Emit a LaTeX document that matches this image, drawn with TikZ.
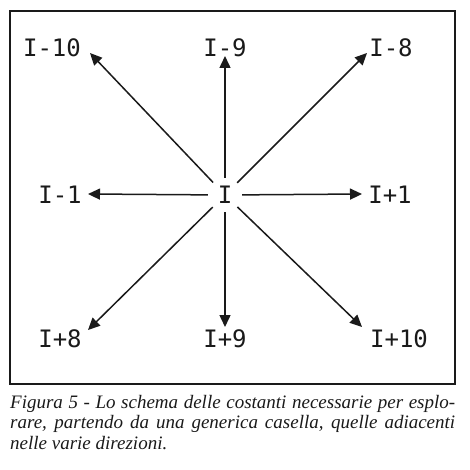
\documentclass[tikz,border=0pt]{standalone}
\usepackage{fontspec}
\usepackage{xcolor}
\usetikzlibrary{arrows.meta}
\newfontfamily\labfont{DejaVu Sans Mono}
\newfontfamily\capfont[ItalicFont={Liberation Serif Italic}]{Liberation Serif}
\definecolor{ink}{HTML}{1A1A1A}
\definecolor{paper}{HTML}{FFFFFF}
\tikzset{
  frame/.style={draw=ink, line width=1.8pt},
  dir/.style={draw=ink, line width=1.5pt, -{Triangle[length=12pt,width=11pt]}},
  lab/.style={text=ink, font=\labfont\fontsize{24}{24}\selectfont, inner sep=0pt},
  hub/.style={lab, circle, minimum size=34pt},
  captext/.style={text=ink, font=\capfont\itshape\fontsize{19}{20.5}\selectfont,
    inner sep=0pt, text width=445pt, align=justify, anchor=north west},
}

\begin{document}
\begin{tikzpicture}[x=1pt,y=-1pt]
  \fill[paper] (0,0) rectangle (469,470);
  \useasboundingbox (0,0) rectangle (469,470);
  \draw[frame] (10,11) rectangle (455,384);

  \node[hub] (I) at (225,195) {I};
  \node[lab] (m10) at (52,48) {I-10};
  \node[lab] (m9) at (225,48) {I-9};
  \node[lab] (m8) at (391,48) {I-8};
  \node[lab] (m1) at (60,195) {I-1};
  \node[lab] (p1) at (390,195) {I+1};
  \node[lab] (p8) at (60,339) {I+8};
  \node[lab] (p9) at (225,339) {I+9};
  \node[lab] (p10) at (399,339) {I+10};

  \coordinate (tm10) at (90,53);
  \coordinate (tm9) at (225,56);
  \coordinate (tm8) at (367,53);
  \coordinate (tm1) at (88,194);
  \coordinate (tp1) at (362,194);
  \coordinate (tp8) at (88,330);
  \coordinate (tp9) at (225,327);
  \coordinate (tp10) at (362,327);

  \foreach \t in {tm10,tm9,tm8,tm1,tp1,tp8,tp9,tp10}
    \draw[dir] (I) -- (\t);

  \node[captext] (caption) at (10,395) {Figura 5 - Lo schema delle costanti necessarie per esplo-\linebreak
    rare, partendo da una generica casella, quelle adiacenti\linebreak
    nelle varie direzioni.};
\end{tikzpicture}
\end{document}
